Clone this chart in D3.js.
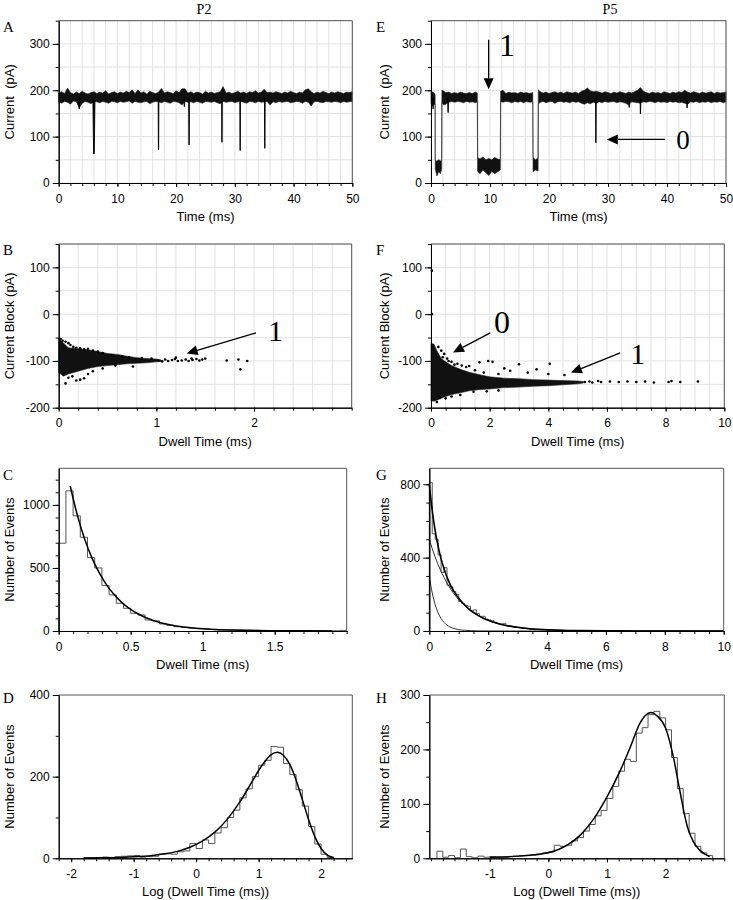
<!DOCTYPE html>
<html><head><meta charset="utf-8">
<script src="https://cdn.jsdelivr.net/npm/d3@7"></script>
<style>
body{margin:0;background:#fff}
svg text{font-family:"Liberation Sans",Arial,sans-serif;fill:#000}
svg text.serif{font-family:"Liberation Serif","Times New Roman",serif}
</style></head><body>
<svg id="c" width="733" height="900"></svg>
<script>
// ---------------- DATA ----------------
// Panel A: current trace envelope, sampled every 0.5 ms (0..50 ms)
const traceA_step = 0.5;
const traceA_hi = [194,197,193,205,195,192,196,193,198,194,
192,195,197,193,196,194,199,192,195,197,
193,196,194,198,195,201,193,201,194,197,
192,198,195,193,196,204,194,197,195,193,
199,195,203,203,194,197,193,196,195,192,
198,194,196,193,195,197,208,194,196,193,
195,198,194,196,193,197,195,199,194,196,
202,195,196,194,197,195,193,196,194,198,
195,193,196,194,201,203,197,193,196,194,
198,195,193,196,194,197,195,193,196,195,197];
const traceA_lo = [175,172,176,174,170,177,175,162,172,176,
174,171,176,175,173,176,174,172,176,175,
173,176,174,175,177,172,176,174,173,175,
176,171,174,176,175,173,176,174,172,176,
175,173,168,176,174,175,173,176,174,172,
176,175,174,176,173,171,176,174,175,176,
173,175,176,174,172,176,175,173,176,174,
175,176,168,175,173,176,174,175,176,173,
174,176,175,172,176,174,166,175,176,174,
173,176,175,174,176,175,173,176,174,175,176];
// Panel A blockade events: [time ms, minimum current pA, width ms]
const eventsA = [[6.0,63,0.35],[17.0,72,0.12],[22.2,82,0.12],[27.8,88,0.1],[30.9,70,0.1],[35.1,75,0.12],[3.5,160,0.15],[21.4,165,0.15],[42.9,168,0.1]];

// Panel E: current trace envelope rows [time ms, low pA, high pA]
const traceE = [
[0,172,197],[0.3,166,196],[0.6,170,193],[0.7,170,190],
[0.72,30,50],[1.0,15,47],[1.3,24,50],[1.6,20,48],[1.8,30,46],
[1.85,172,200],[2.2,168,198],[2.5,170,195],[3.0,174,196],[3.5,176,193],[4.0,174,195],[4.5,176,193],[5.0,175,196],[5.5,173,194],[6.0,176,193],[6.5,174,195],[7.0,175,193],[7.5,173,196],[7.85,175,194],
[7.9,25,55],[8.3,20,52],[8.8,28,56],[9.3,22,50],[9.8,16,53],[10.3,25,50],[10.8,20,55],[11.3,24,52],[11.75,28,50],
[11.8,176,198],[12.2,174,200],[12.7,176,193],[13.2,175,196],[13.7,173,194],[14.2,176,195],[14.7,174,193],[15.2,176,196],[15.7,173,194],[16.2,176,195],[16.7,174,193],[17.25,175,195],
[17.3,24,55],[17.7,28,50],[18.15,26,54],
[18.2,170,201],[18.5,174,197],[19,176,194],[19.5,173,196],[20,175,193],[20.5,176,195],[21,172,197],[21.5,175,194],[22,176,196],[22.5,174,193],[23,175,197],[23.5,173,195],[24,176,194],[24.5,174,196],[25,175,193],[25.5,172,198],[26,170,200],[26.5,173,205],[27,171,199],[27.5,174,197],[28,172,198],[28.5,175,196],[29,173,194],[29.5,176,197],[30,174,195],[30.5,175,193],[31,176,196],[31.5,173,194],[32,175,197],[32.5,174,195],[33,172,193],[33.5,168,196],[34,175,194],[34.5,174,197],[35,173,200],[35.5,172,206],[36,175,198],[36.5,174,195],[37,176,193],[37.5,175,196],[38,173,194],[38.5,176,195],[39,174,193],[39.5,175,197],[40,173,195],[40.5,176,193],[41,174,196],[41.5,175,194],[42,173,197],[42.5,174,195],[43,172,200],[43.5,170,196],[44,175,194],[44.5,174,197],[45,176,195],[45.5,173,193],[46,175,196],[46.5,174,194],[47,176,195],[47.5,173,197],[48,175,193],[48.5,174,196],[49,176,194],[49.5,173,195],[50,175,196]];
const eventsE = [[27.95,87,0.1],[35.5,149,0.12],[2.9,152,0.12],[33.6,163,0.1],[43.4,162,0.1],[0.35,160,0.1]];

// Panel B: dense event cloud envelope [dwell ms, low pA, high pA] and individual events [dwell ms, block pA]
const cloudB = [[0,-125,-52],[0.02,-128,-56],[0.05,-132,-62],[0.1,-128,-72],[0.2,-122,-74],[0.3,-116,-76],[0.4,-112,-80],[0.5,-110,-84],[0.6,-108,-86],[0.7,-106,-90],[0.8,-105,-93],[0.9,-104,-95],[1.0,-102,-96],[1.05,-101,-98]];
const dotsB = [[0.02,-53],[0.04,-57],[0.07,-59],[0.1,-62],[0.12,-66],[0.15,-70],[0.18,-72],[0.22,-73],[0.26,-75],[0.3,-74],[0.35,-78],[0.4,-80],[0.45,-83],
[0.05,-130],[0.07,-148],[0.1,-136],[0.14,-133],[0.18,-142],[0.22,-140],[0.26,-137],[0.3,-128],[0.35,-122],[0.45,-116],[0.58,-110],[0.76,-112],
[0.55,-88],[0.65,-90],[0.72,-92],[0.85,-94],[0.95,-95],
[1.02,-99],[1.06,-101],[1.09,-97],[1.12,-100],[1.16,-98],[1.19,-96],[1.22,-100],[1.26,-99],[1.3,-97],[1.33,-100],[1.37,-98],[1.41,-96],[1.44,-99],[1.47,-97],[1.5,-95],[1.72,-99],[1.84,-97],[1.93,-100],[1.86,-118],[1.2,-93],[1.36,-95]];

// Panel F
const cloudF = [[0,-185,-63],[0.1,-186,-64],[0.2,-184,-78],[0.35,-180,-95],[0.5,-176,-102],[0.7,-172,-110],[1.0,-168,-118],[1.3,-164,-124],[1.7,-161,-130],[2.0,-160,-134],[2.5,-157,-137],[3.0,-156,-138],[3.5,-154,-140],[4.0,-153,-141],[4.5,-151,-142],[5.0,-149,-143],[5.2,-147,-144]];
const dotsF = [[0.03,93],[0.03,0],
[0.25,-70],[0.35,-78],[0.45,-85],[0.55,-95],[0.6,-100],[0.4,-92],[0.7,-102],[0.8,-108],[0.9,-106],[1.05,-110],[1.2,-113],[1.3,-111],[1.65,-103],[1.95,-100],[2.1,-102],[2.5,-116],[2.7,-121],[3.0,-107],[3.3,-125],[3.6,-118],[4.05,-106],[4.0,-128],[4.55,-130],[1.5,-120],[0.95,-120],[1.8,-125],[2.3,-128],
[0.3,-178],[0.5,-180],[0.7,-176],[1.0,-173],[1.45,-166],[2.3,-163],[1.9,-165],[0.2,-188],
[5.25,-145],[5.4,-144],[5.5,-146],[5.7,-143],[5.8,-145],[6.1,-144],[6.4,-145],[6.7,-144],[7.0,-145],[7.3,-144],[7.6,-146],[8.1,-145],[8.2,-143],[8.5,-145],[9.1,-144]];

// Panel C: dwell-time histogram (bin 0.05 ms from 0) and exponential fit
const histC_start = 0, histC_bin = 0.05;
const histC = [696,1111,913,743,582,500,360,286,220,180,140,127,87,80,56,45,34,29,24,18,16,13,10,10,8,7,6,5,4,4,3,3,2,2,2,1,1,1,2,5];
const fitC_x = [0.08,0.13,0.18,0.23,0.28,0.33,0.38,0.43,0.48,0.53,0.58,0.63,0.68,0.73,0.78,0.83,0.88,0.93,0.98,1.08,1.18,1.28,1.38,1.5,1.7,1.9];
const fitC_y = [1150,916,730,582,464,370,295,235,187,149,119,95,75,60,48,38,30,24,19,12,8,5,3,2,1,0.5];

// Panel G: dwell-time histogram (bin 0.1 ms) with two-exponential fit
const histG_start = 0, histG_bin = 0.1;
const histG = [810,530,500,415,320,345,250,240,215,200,160,150,140,135,110,115,95,80,80,65,60,55,48,40,38,42,30,26,24,20,18,16,14,12,10,9,8,7,6,5,4,4,3,3,2,2,2,1,1,1];
const fitG_x = [0,0.05,0.1,0.2,0.3,0.4,0.5,0.6,0.7,0.8,0.9,1.0,1.2,1.4,1.6,1.8,2.0,2.3,2.6,3.0,3.5,4.0,4.5,5,6,7,8,10];
const fitG_total = [800,723,656,546,461,393,339,294,257,226,201,178,142,113,91,72,58,42,30,20,11,7,4,2,1,0.3,0.1,0];
const fitG_slow = [500,474,449,403,362,325,292,262,235,211,190,171,138,111,90,72,58,42,30,20,11,7,4,2,1,0.3,0.1,0];
const fitG_fast = [300,249,207,143,99,68,47,32,22,15,11,7,4,2,1,0.4,0.2,0.05,0,0,0,0,0,0,0,0,0,0];

// Panel D: log dwell-time histogram (bin 0.1 from -1.8) and fit
const histD_start = -1.8, histD_bin = 0.1;
const histD = [1,0,2,3,2,4,5,6,7,3,4,5,10,11,10,16,18,36,24,45,36,62,75,100,118,148,170,200,228,240,274,272,232,205,168,128,78,35,10,2];
const fitD_x = [-1.8,-1.5,-1.2,-1.0,-0.7,-0.5,-0.3,-0.1,0.1,0.3,0.5,0.7,0.9,1.0,1.1,1.2,1.3,1.4,1.5,1.6,1.7,1.8,1.9,2.0,2.1,2.2];
const fitD_y = [0.6,1.1,2.2,3.5,7,11,17,27,42,64,96,138,189,215,237,254,260,252,230,192,144,95,53,24,8,2];

// Panel H
const histH_start = -1.9, histH_bin = 0.1;
const histH = [13,2,5,1,17,3,1,4,2,3,2,1,3,4,5,5,6,8,10,12,24,22,24,32,38,50,62,78,88,110,132,160,182,178,230,240,264,270,258,236,185,128,82,46,22,10,5];
const fitH_x = [-1.0,-0.5,0,0.32,0.55,0.77,1.0,1.23,1.4,1.56,1.65,1.75,1.85,2.0,2.13,2.24,2.37,2.47,2.58,2.75];
const fitH_y = [2,4,10,24,43,72,113,162,205,248,262,268,262,239,187,125,58,31,15,3];

// Tick labels
const ticksTime = [0,10,20,30,40,50];
const ticksCurrent = [0,100,200,300];
const ticksBlock = [-200,-100,0,100];
const ticksDwellB = [0,1,2];
const ticksDwellF = [0,2,4,6,8,10];
const ticksDwellC = [0,0.5,1,1.5];
const ticksCountC = [0,500,1000];
const ticksCountG = [0,400,800];
const ticksLogD = [-2,-1,0,1,2];
const ticksCountD = [0,200,400];
const ticksLogH = [-1,0,1,2];
const ticksCountH = [0,100,200,300];

// Annotations: [x1,y1,x2(tip),y2(tip)] arrows and [text, x, y, size] labels in data units
const arrowsB = [[2.02,-40,1.31,-84]];
const labelsB = [["1",2.22,-57,30]];
const arrowsE = [[9.77,309,9.77,202],[39.7,94,29.8,94]];
const labelsE = [["1",12.9,273,32],["0",42.7,73,27]];
const arrowsF = [[2.02,-40,0.75,-82],[6.45,-83,4.77,-125]];
const labelsF = [["0",2.42,-41,32],["1",7.05,-107,30]];

// ---------------- DRAWING ----------------
const svg = d3.select("#c");
const rng = (a,b,s)=>{const out=[];for(let i=0;;i++){const v=+(a+i*s).toFixed(6);if(v>b+1e-9)break;out.push(v);}return out;};

function makePanel(o){
  const x = d3.scaleLinear().domain(o.xd).range([o.L,o.R]);
  const y = d3.scaleLinear().domain(o.yd).range([o.B,o.T]);
  const g = svg.append("g");
  if(o.grid){
    g.selectAll(null).data(o.xMinor).join("line")
      .attr("x1",d=>x(d)).attr("x2",d=>x(d)).attr("y1",o.T).attr("y2",o.B)
      .attr("stroke","#e2e2e2").attr("stroke-width",1);
    g.selectAll(null).data(o.yMinor).join("line")
      .attr("y1",d=>y(d)).attr("y2",d=>y(d)).attr("x1",o.L).attr("x2",o.R)
      .attr("stroke","#e2e2e2").attr("stroke-width",1);
  }
  const content = svg.append("g");
  return {x,y,g,content,o};
}
function finishPanel(p){
  const {x,y,o} = p;
  const g = svg.append("g");
  g.append("path").attr("d",`M${o.L},${o.T}H${o.R}V${o.B}`).attr("fill","none").attr("stroke","#555").attr("stroke-width",1);
  const fmt = d=>String(d);
  const xa = g.append("g").attr("transform",`translate(0,${o.B})`);
  xa.call(d3.axisBottom(x).tickValues(o.xMinor).tickSize(3).tickSizeOuter(0).tickFormat(""));
  xa.append("g").call(d3.axisBottom(x).tickValues(o.xMajor).tickSize(4).tickSizeOuter(0).tickPadding(7).tickFormat(fmt));
  const ya = g.append("g").attr("transform",`translate(${o.L},0)`);
  ya.call(d3.axisLeft(y).tickValues(o.yMinor).tickSize(3).tickSizeOuter(0).tickFormat(""));
  ya.append("g").call(d3.axisLeft(y).tickValues(o.yMajor).tickSize(6).tickSizeOuter(0).tickPadding(3).tickFormat(fmt));
  g.selectAll(".domain").attr("stroke","#000");
  g.selectAll(".tick line").attr("stroke","#000");
  g.selectAll(".tick text").attr("font-size",12).attr("font-family","Liberation Sans, Arial, sans-serif").attr("fill","#000");
  // titles
  g.append("text").attr("x",(o.L+o.R)/2).attr("y",o.B+38).attr("text-anchor","middle").attr("font-size",13).text(o.xlab);
  g.append("text").attr("transform",`translate(${o.ylx},${(o.T+o.B)/2}) rotate(-90)`).attr("text-anchor","middle")
    .attr("font-size",13).style("white-space","pre").text(o.ylab);
  g.append("text").attr("class","serif").attr("x",o.lx).attr("y",o.ly).attr("font-size",15).text(o.letter);
}
function arrow(g,x1,y1,x2,y2){
  const len=11, hw=5;
  const a=Math.atan2(y2-y1,x2-x1);
  const bx=x2-len*Math.cos(a), by=y2-len*Math.sin(a);
  g.append("line").attr("x1",x1).attr("y1",y1).attr("x2",bx).attr("y2",by).attr("stroke","#000").attr("stroke-width",1.3);
  g.append("path").attr("d",`M${x2},${y2}L${bx+hw*Math.sin(a)},${by-hw*Math.cos(a)}L${bx-hw*Math.sin(a)},${by+hw*Math.cos(a)}Z`).attr("fill","#000");
}
function annotate(p, arrows, labels){
  arrows.forEach(a=>arrow(p.content,p.x(a[0]),p.y(a[1]),p.x(a[2]),p.y(a[3])));
  labels.forEach(l=>p.content.append("text").attr("class","serif").attr("x",p.x(l[1])).attr("y",p.y(l[2]))
    .attr("text-anchor","middle").attr("font-size",l[3]).text(l[0]));
}
function drawEvents(p, events, base){
  events.forEach(e=>{
    const [t,m,w]=e;
    p.content.append("path").attr("d",`M${p.x(t-w/2)},${p.y(base)}L${p.x(t-w/6)},${p.y(m)}L${p.x(t+w/6)},${p.y(m)}L${p.x(t+w/2)},${p.y(base)}Z`)
      .attr("fill","#000").attr("stroke","#000").attr("stroke-width",0.9);
  });
}
function stepPath(p,start,w,counts){
  let s=`M${p.x(start)},${p.y(0)}`;
  counts.forEach((c,i)=>{ s+=`V${p.y(c)}H${p.x(start+(i+1)*w)}`; });
  return s+`V${p.y(0)}`;
}
function drawHist(p,start,w,counts){
  p.content.append("path").attr("d",stepPath(p,start,w,counts)).attr("fill","none").attr("stroke","#555").attr("stroke-width",1);
}
function drawFit(p,xs,ys,width,color){
  const line=d3.line().x(d=>p.x(d[0])).y(d=>p.y(d[1])).curve(d3.curveMonotoneX);
  p.content.append("path").attr("d",line(xs.map((v,i)=>[v,ys[i]]))).attr("fill","none").attr("stroke",color).attr("stroke-width",width);
}
function drawEnvelope(p,rows){
  const area=d3.area().x(d=>p.x(d[0])).y0(d=>p.y(d[1])).y1(d=>p.y(d[2]));
  p.content.append("path").attr("d",area(rows)).attr("fill","#111").attr("stroke","#222").attr("stroke-width",0.6);
}
function drawDots(p,dots){
  p.content.selectAll(null).data(dots).join("circle").attr("cx",d=>p.x(d[0])).attr("cy",d=>p.y(d[1])).attr("r",1.3).attr("fill","#000");
}

const LYL=13.5, RYL=388.5;
// ---- Panel A ----
const pA = makePanel({L:58.7,R:352.3,T:20.7,B:183,xd:[0,50],yd:[0,350],grid:true,
  xMajor:ticksTime,xMinor:rng(0,50,2),yMajor:ticksCurrent,yMinor:rng(0,350,50),
  xlab:"Time (ms)",ylab:"Current  (pA)",ylx:LYL,letter:"A",lx:3,ly:32});
drawEnvelope(pA, traceA_hi.map((h,i)=>[i*traceA_step, traceA_lo[i], h]));
drawEvents(pA, eventsA, 183);
finishPanel(pA);

// ---- Panel E ----
const pE = makePanel({L:431,R:726,T:20.7,B:183,xd:[0,50],yd:[0,350],grid:true,
  xMajor:ticksTime,xMinor:rng(0,50,2),yMajor:ticksCurrent,yMinor:rng(0,350,50),
  xlab:"Time (ms)",ylab:"Current  (pA)",ylx:RYL,letter:"E",lx:376,ly:32});
drawEnvelope(pE, traceE);
drawEvents(pE, eventsE, 183);
annotate(pE, arrowsE, labelsE);
finishPanel(pE);

// ---- Panel B ----
const pB = makePanel({L:58.7,R:351.7,T:244,B:407.7,xd:[0,3],yd:[-200,150],grid:true,
  xMajor:ticksDwellB,xMinor:rng(0,3,0.2),yMajor:ticksBlock,yMinor:rng(-200,150,50),
  xlab:"Dwell Time (ms)",ylab:"Current Block (pA)",ylx:LYL,letter:"B",lx:3,ly:255});
drawEnvelope(pB, cloudB);
drawDots(pB, dotsB);
annotate(pB, arrowsB, labelsB);
finishPanel(pB);

// ---- Panel F ----
const pF = makePanel({L:431,R:724.3,T:244,B:407.7,xd:[0,10],yd:[-200,150],grid:true,
  xMajor:ticksDwellF,xMinor:rng(0,10,0.5),yMajor:ticksBlock,yMinor:rng(-200,150,50),
  xlab:"Dwell Time (ms)",ylab:"Current Block (pA)",ylx:RYL,letter:"F",lx:376,ly:255});
drawEnvelope(pF, cloudF);
drawDots(pF, dotsF);
annotate(pF, arrowsF, labelsF);
finishPanel(pF);

// ---- Panel C ----
const pC = makePanel({L:58.7,R:346.7,T:468.3,B:631,xd:[0,2],yd:[0,1290],grid:false,
  xMajor:ticksDwellC,xMinor:rng(0,2,0.1),yMajor:ticksCountC,yMinor:rng(0,1200,100),
  xlab:"Dwell Time (ms)",ylab:"Number of Events",ylx:LYL,letter:"C",lx:3,ly:480});
drawHist(pC, histC_start, histC_bin, histC);
drawFit(pC, fitC_x, fitC_y, 1.5, "#000");
finishPanel(pC);

// ---- Panel G ----
const pG = makePanel({L:429.3,R:723.7,T:468.3,B:631,xd:[0,10],yd:[0,887],grid:false,
  xMajor:ticksDwellF,xMinor:rng(0,10,0.5),yMajor:ticksCountG,yMinor:rng(0,800,100),
  xlab:"Dwell Time (ms)",ylab:"Number of Events",ylx:RYL,letter:"G",lx:376,ly:480});
drawHist(pG, histG_start, histG_bin, histG);
drawFit(pG, fitG_x, fitG_slow, 1, "#333");
drawFit(pG, fitG_x, fitG_fast, 1, "#333");
drawFit(pG, fitG_x, fitG_total, 1.6, "#000");
finishPanel(pG);

// ---- Panel D ----
const pD = makePanel({L:58.7,R:352.3,T:695,B:858.3,xd:[-2.2,2.5],yd:[0,400],grid:false,
  xMajor:ticksLogD,xMinor:rng(-2.2,2.4,0.2),yMajor:ticksCountD,yMinor:rng(0,400,100),
  xlab:"Log (Dwell Time (ms))",ylab:"Number of Events",ylx:LYL,letter:"D",lx:3,ly:703});
drawHist(pD, histD_start, histD_bin, histD);
drawFit(pD, fitD_x, fitD_y, 1.5, "#000");
finishPanel(pD);

// ---- Panel H ----
const pH = makePanel({L:429.3,R:724.3,T:695,B:858.3,xd:[-2.03,3],yd:[0,300],grid:false,
  xMajor:ticksLogH,xMinor:rng(-2,3,0.2),yMajor:ticksCountH,yMinor:rng(0,300,50),
  xlab:"Log (Dwell Time (ms))",ylab:"Number of Events",ylx:RYL,letter:"H",lx:376,ly:703});
drawHist(pH, histH_start, histH_bin, histH);
drawFit(pH, fitH_x, fitH_y, 1.5, "#000");
finishPanel(pH);

// column titles
svg.append("text").attr("class","serif").attr("x",204).attr("y",14).attr("text-anchor","middle").attr("font-size",14).text("P2");
svg.append("text").attr("class","serif").attr("x",610).attr("y",14).attr("text-anchor","middle").attr("font-size",14).text("P5");
</script>
</body></html>
